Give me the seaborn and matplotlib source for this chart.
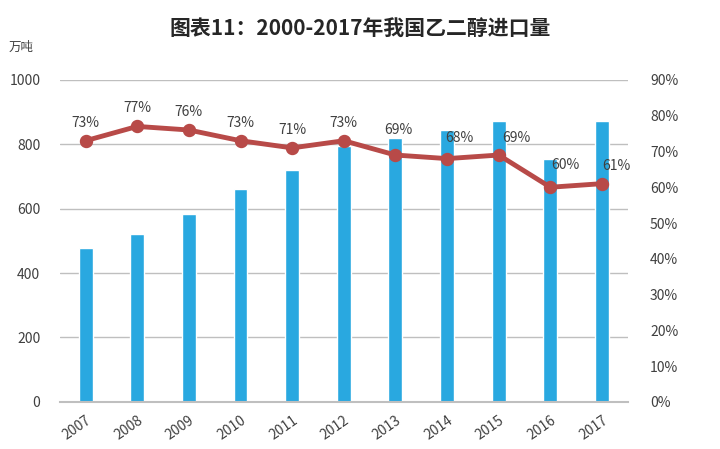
import matplotlib
matplotlib.use("Agg")
import matplotlib.pyplot as plt
import seaborn as sns
import pandas as pd
from matplotlib.ticker import PercentFormatter

# data
years = ["2007", "2008", "2009", "2010", "2011", "2012",
         "2013", "2014", "2015", "2016", "2017"]
imports = [478, 522, 584, 661, 720, 795, 820, 845, 873, 755, 873]   # 万吨
dependence = [73, 77, 76, 73, 71, 73, 69, 68, 69, 60, 61]           # %

df = pd.DataFrame({"year": years, "imports": imports, "dep": dependence})

sns.set_theme(style="white")
plt.rcParams["font.family"] = ["Noto Sans CJK SC", "DejaVu Sans"]

fig = plt.figure(figsize=(7.2, 4.49), dpi=100)
ax = fig.add_axes([0.083, 0.105, 0.789, 0.717])

sns.barplot(data=df, x="year", y="imports", color="#29A8E0",
            width=0.27, saturation=1, ax=ax)
ax.set_ylim(0, 1000)
ax.set_yticks(range(0, 1001, 200))
ax.yaxis.grid(True, color="#BFBFBF", linewidth=1)
ax.set_axisbelow(True)
ax.set_xlabel("")
ax.set_ylabel("")
for s in ["top", "left", "right"]:
    ax.spines[s].set_visible(False)
ax.spines["bottom"].set_color("#BFBFBF")
ax.spines["bottom"].set_linewidth(1.5)
ax.tick_params(axis="y", length=0, labelsize=10, colors="#404040", pad=14)
ax.tick_params(axis="x", length=0, labelsize=10, colors="#404040", pad=8)
plt.setp(ax.get_xticklabels(), rotation=35, ha="right", rotation_mode="anchor")

ax2 = ax.twinx()
sns.pointplot(data=df, x="year", y="dep", color="#B84A48",
              markers="o", markersize=7, linewidth=3.5, ax=ax2)
ax2.set_ylim(0, 90)
ax2.set_yticks(range(0, 91, 10))
ax2.yaxis.set_major_formatter(PercentFormatter(decimals=0))
ax2.set_ylabel("")
ax2.set_xlabel("")
for s in ["top", "left", "right", "bottom"]:
    ax2.spines[s].set_visible(False)
ax2.tick_params(axis="y", length=0, labelsize=10, colors="#404040", pad=16)
ax2.set_xlim(ax.get_xlim())

# label offsets in points (dx, dy)
offsets = [(0, 13)] * 6 + [(2, 18), (9, 15), (13, 12), (11, 16), (10, 13)]
for i, (v, off) in enumerate(zip(dependence, offsets)):
    ax2.annotate(f"{v}%", (i, v), xytext=off, textcoords="offset points",
                 ha="center", va="center", fontsize=10, color="#404040")

fig.text(0.5, 0.935, "图表11：2000-2017年我国乙二醇进口量", ha="center",
         va="center", fontsize=15, fontweight="bold", color="#262626")
fig.text(0.012, 0.895, "万吨", ha="left", va="center", fontsize=9,
         color="#404040")

fig.savefig("out.png", dpi=100)
